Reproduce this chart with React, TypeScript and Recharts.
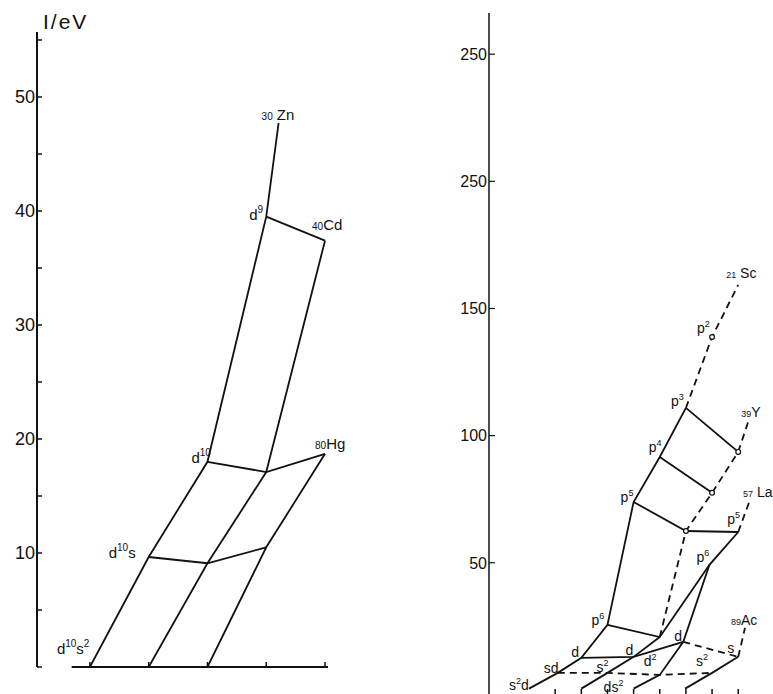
import React from 'react';
import {
  ComposedChart,
  Line,
  Scatter,
  XAxis,
  YAxis,
  ReferenceLine,
  ReferenceDot,
} from 'recharts';

// ---- left panel: Zn, Cd, Hg (I/eV against ionisation step) ----
const znK = [0, 1, 2, 3, 3.21];
const znV = [0, 9.65, 18.0, 39.5, 47.7];
const cdK = [1, 2, 3, 4];
const cdV = [0, 9.1, 17.1, 37.4];
const hgK = [2, 3, 4];
const hgV = [0, 10.5, 18.7];
const leftYTicks = [0, 5, 10, 15, 20, 25, 30, 35, 40, 45, 50, 55];
const leftXTicks = [0, 1, 2, 3, 4];

// ---- right panel: Sc, Y, La, Ac ----
const scK = [0, 1.1, 2, 3, 4, 5, 6, 7, 8];
const scV = [0.5, 6.7, 12.6, 25.6, 73.9, 91.6, 110.9, 138.8, 159.3];
const yK = [2, 3, 4, 5, 6, 7, 8, 8.38];
const yV = [0.5, 6.7, 13.0, 20.8, 62.5, 77.5, 93.6, 105.4];
const laK = [4, 5, 5.9, 6.9, 8, 8.45];
const laV = [0.5, 5.9, 18.9, 49.2, 62.1, 74.7];
const acK = [5.97, 7, 8, 8.26];
const acV = [0.5, 6.7, 13.0, 24.4];
const rightYTicks = [50, 100, 150, 200, 250];
const rightYLabels = ['50', '100', '150', '250', '250'];
const rightXTicks = [1, 2, 3, 4, 5, 6, 7, 8];

const INK = '#111111';
const FONT = '"Liberation Sans", Arial, sans-serif';

type Pt = { k: number; v: number };
type Part = { t: string; s?: 'sup' | 'sm' };
type Note = { at: Pt; dx: number; dy: number; parts: Part[] };

const pts = (ks: number[], vs: number[], from = 0, to = ks.length - 1): Pt[] =>
  ks.slice(from, to + 1).map((k, i) => ({ k, v: vs[from + i] }));
const at = (ks: number[], vs: number[], i: number): Pt => ({ k: ks[i], v: vs[i] });

// '^x' = superscript, '_x' = small prefix (atomic number)
const P = (...items: string[]): Part[] =>
  items.map((s) =>
    s[0] === '^' ? { t: s.slice(1), s: 'sup' } : s[0] === '_' ? { t: s.slice(1), s: 'sm' } : { t: s }
  );

const seg = (id: string, data: Pt[], dashed = false) => (
  <Line
    key={id}
    data={data}
    dataKey="v"
    type="linear"
    stroke={INK}
    strokeWidth={1.8}
    strokeDasharray={dashed ? '7 5' : undefined}
    dot={false}
    activeDot={false}
    legendType="none"
    isAnimationActive={false}
  />
);

function AnnText({ x, y, parts, fs }: { x: number; y: number; parts: Part[]; fs: number }) {
  let shift = 0;
  return (
    <text x={x} y={y} fontSize={fs} fontFamily={FONT} fill={INK} stroke="none">
      {parts.map((p, i) => {
        const target = p.s === 'sup' ? -Math.round(fs * 0.45) : 0;
        const d = target - shift;
        shift = target;
        return (
          <tspan key={i} dy={d} fontSize={p.s ? Math.round(fs * 0.65) : fs}>
            {p.t}
          </tspan>
        );
      })}
    </text>
  );
}

const notes = (list: Note[], fs: number, prefix: string) =>
  list.map((n, i) => (
    <ReferenceDot
      key={prefix + i}
      x={n.at.k}
      y={n.at.v}
      r={1}
      shape={(p: any) => <AnnText x={p.cx + n.dx} y={p.cy + n.dy} parts={n.parts} fs={fs} />}
    />
  ));

const xTick = (len: number) => (p: any) => (
  <line x1={p.x} x2={p.x} y1={p.y} y2={p.y - len} stroke={INK} strokeWidth={1.5} />
);

const leftNotes: Note[] = [
  { at: at(znK, znV, 0), dx: -33, dy: -13, parts: P('d', '^10', 's', '^2') },
  { at: at(znK, znV, 1), dx: -40, dy: 1, parts: P('d', '^10', 's') },
  { at: at(znK, znV, 2), dx: -16, dy: 1, parts: P('d', '^10') },
  { at: at(znK, znV, 3), dx: -17, dy: 3, parts: P('d', '^9') },
  { at: at(znK, znV, 4), dx: -17, dy: -3, parts: P('_30', ' Zn') },
  { at: at(cdK, cdV, 3), dx: -13, dy: -11, parts: P('_40', 'Cd') },
  { at: at(hgK, hgV, 2), dx: -10, dy: -5, parts: P('_80', 'Hg') },
];

const rightNotes: Note[] = [
  { at: at(scK, scV, 0), dx: -20, dy: 1, parts: P('s', '^2', 'd') },
  { at: at(scK, scV, 1), dx: -14, dy: 0, parts: P('sd') },
  { at: at(scK, scV, 2), dx: -10, dy: -1, parts: P('d') },
  { at: at(scK, scV, 3), dx: -16, dy: 0, parts: P('p', '^6') },
  { at: at(scK, scV, 4), dx: -13, dy: 0, parts: P('p', '^5') },
  { at: at(scK, scV, 5), dx: -11, dy: -5, parts: P('p', '^4') },
  { at: at(scK, scV, 6), dx: -15, dy: -2, parts: P('p', '^3') },
  { at: at(scK, scV, 7), dx: -15, dy: -4, parts: P('p', '^2') },
  { at: at(scK, scV, 8), dx: -12, dy: -7, parts: P('_21', ' Sc') },
  { at: at(yK, yV, 1), dx: -11, dy: -1, parts: P('s', '^2') },
  { at: at(yK, yV, 2), dx: -8, dy: -2, parts: P('d') },
  { at: at(yK, yV, 7), dx: -7, dy: -5, parts: P('_39', 'Y') },
  { at: at(laK, laV, 0), dx: -30, dy: 3, parts: P('ds', '^2') },
  { at: at(laK, laV, 1), dx: -16, dy: -9, parts: P('d', '^2') },
  { at: at(laK, laV, 2), dx: -9, dy: -1, parts: P('d') },
  { at: at(laK, laV, 3), dx: -13, dy: -3, parts: P('p', '^6') },
  { at: at(laK, laV, 4), dx: -11, dy: -8, parts: P('p', '^5') },
  { at: at(laK, laV, 5), dx: -7, dy: -3, parts: P('_57', ' La') },
  { at: at(acK, acV, 1), dx: -16, dy: -7, parts: P('s', '^2') },
  { at: at(acK, acV, 2), dx: -11, dy: -4, parts: P('s') },
  { at: at(acK, acV, 3), dx: -14, dy: -3, parts: P('_89', 'Ac') },
];

const circles: Pt[] = [at(yK, yV, 4), at(yK, yV, 5), at(yK, yV, 6), at(scK, scV, 7)];

function LeftPanel() {
  const yTick = (p: any) => {
    const v = p.payload.value;
    return (
      <g>
        <line x1={p.x + 3} x2={p.x + 8} y1={p.y} y2={p.y} stroke={INK} strokeWidth={1.5} />
        {v > 0 && v % 10 === 0 && (
          <text x={p.x + 1} y={p.y} dy="0.36em" textAnchor="end" fontSize={18} fontFamily={FONT} fill={INK}>
            {v}
          </text>
        )}
      </g>
    );
  };
  return (
    <ComposedChart width={390} height={694} margin={{ top: 32, right: 45, bottom: 25, left: 0 }}>
      <XAxis
        dataKey="k"
        type="number"
        domain={[-0.9, 4.34]}
        ticks={leftXTicks}
        interval={0}
        height={2}
        axisLine={false}
        tickLine={false}
        tickSize={0}
        tickMargin={0}
        tick={xTick(5)}
        allowDataOverflow
      />
      <YAxis
        type="number"
        domain={[0, 55.7]}
        ticks={leftYTicks}
        interval={0}
        width={37}
        axisLine={{ stroke: INK, strokeWidth: 2 }}
        tickLine={false}
        tickSize={0}
        tickMargin={3}
        tick={yTick}
        allowDataOverflow
      />
      <ReferenceLine
        segment={[{ x: -0.31, y: 0 }, { x: 4.05, y: 0 }]}
        stroke={INK}
        strokeWidth={2.2}
      />
      {seg('zn', pts(znK, znV))}
      {seg('cd', pts(cdK, cdV))}
      {seg('hg', pts(hgK, hgV))}
      {seg('row1', [at(znK, znV, 1), at(cdK, cdV, 1), at(hgK, hgV, 1)])}
      {seg('row2', [at(znK, znV, 2), at(cdK, cdV, 2), at(hgK, hgV, 2)])}
      {seg('row3', [at(znK, znV, 3), at(cdK, cdV, 3)])}
      {notes(leftNotes, 15, 'l')}
    </ComposedChart>
  );
}

function RightPanel() {
  const yTick = (p: any) => {
    const v = p.payload.value;
    return (
      <g>
        <line x1={p.x + 3} x2={p.x + 9} y1={p.y} y2={p.y} stroke={INK} strokeWidth={1.2} />
        <text x={p.x + 1} y={p.y} dy="0.36em" textAnchor="end" fontSize={16} fontFamily={FONT} fill={INK}>
          {rightYLabels[rightYTicks.indexOf(v)]}
        </text>
      </g>
    );
  };
  return (
    <ComposedChart width={373} height={697} margin={{ top: 13, right: 0, bottom: 0, left: 29 }}>
      <XAxis
        dataKey="k"
        type="number"
        domain={[-1.53, 9.33]}
        ticks={rightXTicks}
        interval={0}
        height={2}
        axisLine={false}
        tickLine={false}
        tickSize={0}
        tickMargin={0}
        tick={xTick(6)}
        allowDataOverflow
      />
      <YAxis
        type="number"
        domain={[-2, 266.2]}
        ticks={rightYTicks}
        interval={0}
        width={60}
        axisLine={{ stroke: INK, strokeWidth: 1.5 }}
        tickLine={false}
        tickSize={0}
        tickMargin={3}
        tick={yTick}
        allowDataOverflow
      />
      {seg('sc', pts(scK, scV, 0, 6))}
      {seg('scD', pts(scK, scV, 6), true)}
      {seg('y', pts(yK, yV, 0, 3))}
      {seg('yD', pts(yK, yV, 3), true)}
      {seg('la', pts(laK, laV, 0, 4))}
      {seg('laD', pts(laK, laV, 4), true)}
      {seg('ac', pts(acK, acV, 0, 2))}
      {seg('acD', pts(acK, acV, 2), true)}
      {seg('r1', [at(scK, scV, 1), at(yK, yV, 1), at(laK, laV, 1), at(acK, acV, 1)], true)}
      {seg('r2', [at(scK, scV, 2), at(yK, yV, 2), at(laK, laV, 2)])}
      {seg('r2D', [at(laK, laV, 2), at(acK, acV, 2)], true)}
      {seg('r3', [at(scK, scV, 3), at(yK, yV, 3), at(laK, laV, 3)])}
      {seg('r4', [at(scK, scV, 4), at(yK, yV, 4), at(laK, laV, 4)])}
      {seg('r5', [at(scK, scV, 5), at(yK, yV, 5)])}
      {seg('r6', [at(scK, scV, 6), at(yK, yV, 6)])}
      <Scatter
        data={circles}
        dataKey="v"
        isAnimationActive={false}
        shape={(p: any) => (
          <circle cx={p.cx} cy={p.cy} r={2.4} fill="#fff" stroke={INK} strokeWidth={1.2} />
        )}
      />
      {notes(rightNotes, 14, 'r')}
    </ComposedChart>
  );
}

export default function App() {
  return (
    <div
      style={{
        position: 'absolute',
        left: 0,
        top: 0,
        width: 773,
        height: 694,
        overflow: 'hidden',
        background: '#fff',
      }}
    >
      <div style={{ position: 'absolute', left: 0, top: 0 }}>
        <LeftPanel />
      </div>
      <div
        style={{
          position: 'absolute',
          left: 43,
          top: 10,
          fontFamily: FONT,
          fontSize: 21,
          letterSpacing: 2,
          color: INK,
          lineHeight: '24px',
        }}
      >
        I/eV
      </div>
      <div style={{ position: 'absolute', left: 400, top: 0 }}>
        <RightPanel />
      </div>
    </div>
  );
}
